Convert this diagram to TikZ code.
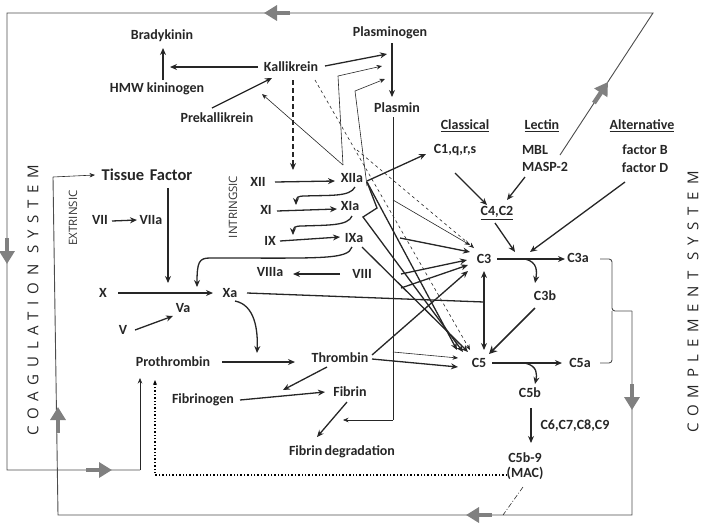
\documentclass[tikz,border=0pt]{standalone}
\usepackage{fontspec}
\setmainfont{Carlito}
\newfontfamily\sysfont[LetterSpace=45]{Open Sans}
\newfontfamily\smallsans{Open Sans}
\usetikzlibrary{arrows.meta}
\begin{document}
\begin{tikzpicture}[x=1pt,y=-1pt,
  lbl/.style={font=\bfseries\fontsize{14}{15}\selectfont, inner sep=1pt, text=black!85},
  big/.style={font=\bfseries\fontsize{16.5}{18}\selectfont, inner sep=1pt, text=black!85},
  vert/.style={font=\smallsans\fontsize{11.5}{12}\selectfont, rotate=90, inner sep=0pt, text=black!80},
  sys/.style={font=\sysfont\fontsize{15}{16}\selectfont, rotate=90, inner sep=0pt, text=black!85},
  ar/.style={draw=black!85, line width=1.3pt, -{Stealth[length=7pt,width=6pt]}},
  tar/.style={draw=black!85, line width=0.6pt, -{Stealth[length=5.5pt,width=4.5pt]}},
  ln/.style={draw=black!85, line width=1.3pt},
  tln/.style={draw=black!85, line width=0.6pt},
  gl/.style={draw=black!70, line width=0.9pt},
  gtip/.style={draw=black!50, fill=black!50, line width=4.5pt, -{Triangle[length=13pt,width=15pt]}},
]
\useasboundingbox (0,0) rectangle (707,523);
% ---------- nodes ----------
\node[lbl] (brady) at (162,36) {Bradykinin};
\node[lbl] (kall) at (291,67) {Kallikrein};
\node[lbl] (hmw) at (157,89) {HMW kininogen};
\node[lbl] (prek) at (217,118) {Prekallikrein};
\node[lbl] (plg) at (390,33) {Plasminogen};
\node[lbl] (plm) at (397,108) {Plasmin};
\node[lbl] (classical) at (465,126) {\underline{Classical}};
\node[lbl] (lectin) at (542,126) {\underline{Lectin}};
\node[lbl] (alt) at (642,126) {\underline{Alternative}};
\node[lbl] (c1) at (455,150) {C1,q,r,s};
\node[lbl] (mbl) at (535,150) {MBL};
\node[lbl] (masp) at (545,167) {MASP-2};
\node[lbl] (fb) at (645,150) {factor B};
\node[lbl] (fd) at (645,168) {factor D};
\node[big] (tf) at (147,175) {Tissue\,\,Factor};
\node[lbl] (vii) at (100,220) {VII};
\node[lbl] (viia) at (151,220) {VIIa};
\node[lbl] (xii) at (258,182) {XII};
\node[lbl] (xiia) at (352,178) {XIIa};
\node[lbl] (xi) at (266,210) {XI};
\node[lbl] (xia) at (350,206) {XIa};
\node[lbl] (ix) at (270,241) {IX};
\node[lbl] (ixa) at (354,238) {IXa};
\node[lbl] (viiia) at (270,272) {VIIIa};
\node[lbl] (viii) at (362,274) {VIII};
\node[lbl] (x) at (103,293) {X};
\node[lbl] (xa) at (230,293) {Xa};
\node[lbl] (v) at (123,330) {V};
\node[lbl] (va) at (183,308) {Va};
\node[lbl] (c42) at (497,213) {\underline{C4,C2}};
\node[lbl] (c3) at (484,259) {C3};
\node[lbl] (c3a) at (578,258) {C3a};
\node[lbl] (c3b) at (545,296) {C3b};
\node[lbl] (c5) at (479,363) {C5};
\node[lbl] (c5a) at (580,363) {C5a};
\node[lbl] (c5b) at (530,393) {C5b};
\node[lbl] (c6) at (575,426) {C6,C7,C8,C9};
\node[lbl, align=center] (mac) at (525,466) {C5b-9\\(MAC)};
\node[lbl] (prot) at (173,362) {Prothrombin};
\node[lbl] (thr) at (340,358) {Thrombin};
\node[lbl] (fbg) at (203,400) {Fibrinogen};
\node[lbl] (fbn) at (350,392) {Fibrin};
\node[lbl] (fdeg) at (342,452) {Fibrin\,degradation};
\node[vert] (extr) at (73,218) {EXTRINSIC};
\node[vert] (intr) at (233,207) {INTRINGSIC};
\node[sys] (coag) at (33,300) {COAGULATION SYSTEM};
\node[sys] (comp) at (693,302) {COMPLEMENT SYSTEM};
% ---------- outer loops ----------
\draw[gl] (560,155) -- (653,13) -- (7,13) -- (7,470) -- (140,470);
\draw[tar] (140,470) -- (140,378);
\draw[gtip] (594,103) -- (608,82);
\draw[gtip] (290,13) -- (264,13);
\draw[gtip] (7,238) -- (7,264);
\draw[gtip] (86,470) -- (112,470);
\draw[gl] (600,259) [rounded corners=3pt] -- (612,259) -- (612,311) -- (632,311);
\draw[gl, rounded corners=3pt] (600,363) -- (612,363) -- (612,311);
\draw[gl] (632,311) -- (632,515) -- (58,515) -- (53,177);
\draw[tar] (53,177) -- (95,175);
\draw[gtip] (632,384) -- (632,410);
\draw[gtip] (492,515) -- (466,515);
\draw[gtip] (58,433) -- (58,407);
\draw[line width=1.4pt, dotted, -{Stealth[length=5pt,width=4pt]}] (507,475) -- (155,475) -- (155,380);
\draw[tln, dash pattern=on 5pt off 2pt on 1pt off 2pt] (523,487) -- (503,515);
% ---------- kallikrein area ----------
\draw[ar] (163,80) -- (163,48);
\draw[ar] (258,67) -- (170,67);
\draw[ar] (212,108) -- (272,78);
\draw[ar] (325,66) -- (387,54);
\draw[ar, dash pattern=on 5pt off 3pt] (293,80) -- (293,170);
\draw[tar] (343,165) -- (262,94);
\draw[tar] (343,165) -- (338,76) -- (382,66);
\draw[tar] (367,186) -- (355,91) -- (385,79);
\draw[tar, dashed] (315,80) -- (470,350);
\draw[tar, dashed] (357,150) -- (474,248);
\draw[ar] (392,43) -- (392,97);
\draw[tln] (393,117) -- (393,420);
\draw[tar] (393,420) -- (343,420);
\draw[tar] (393,200) -- (470,245);
\draw[tar] (393,352) -- (458,358);
% ---------- intrinsic ----------
\draw[ar] (275,182) -- (335,181);
\draw[ar] (277,211) -- (337,209);
\draw[ar] (280,241) -- (340,237);
\draw[ar] (340,274) -- (293,274);
\draw[ar] (355,187) .. controls (350,197) and (330,195) .. (305,196) .. controls (297,196) and (296,198) .. (296,205);
\draw[ar] (352,216) .. controls (348,226) and (328,225) .. (302,226) .. controls (294,226) and (293,228) .. (293,235);
\draw[ar] (352,247) .. controls (348,260) and (320,258) .. (210,258) .. controls (199,258) and (197,262) .. (197,287);
\draw[ar] (367,181) -- (426,154);
\draw[ar] (367,182) -- (457,350);
\draw[ar] (367,182) -- (377,208) -- (363,217) -- (463,352);
\draw[ar] (362,247) -- (468,352);
\draw[ar] (400,238) -- (470,252);
\draw[ar] (401,274) -- (467,260);
\draw[ar] (401,288) -- (468,265);
% ---------- extrinsic / common ----------
\draw[ar] (168,188) -- (168,283);
\draw[ar] (112,221) -- (137,220);
\draw[ar] (118,293) -- (213,293);
\draw[ar] (135,330) -- (173,316);
\draw[ln] (247,293) -- (484,302);
\draw[ar] (235,301) .. controls (255,305) and (258,330) .. (257,353);
\draw[ar] (222,362) -- (295,362);
\draw[ar] (372,355) -- (468,271);
\draw[ar] (372,359) -- (458,367);
\draw[ar] (327,367) -- (283,390);
\draw[ar] (240,400) -- (325,392);
\draw[ar] (347,402) -- (317,437);
% ---------- complement ----------
\draw[ar] (455,173) -- (487,205);
\draw[ar] (525,177) -- (507,200);
\draw[ar] (625,182) -- (530,252);
\draw[ar] (495,223) -- (515,252);
\draw[ar] (497,259) -- (565,259);
\draw[ar] (525,259) .. controls (538,262) and (537,272) .. (535,283);
\draw[line width=1.3pt, draw=black!85, {Stealth[length=7pt,width=6pt]}-{Stealth[length=7pt,width=6pt]}] (484,271) -- (484,350);
\draw[line width=1.7pt, draw=black!85, -{Stealth[length=8pt,width=8pt]}] (535,308) -- (489,354);
\draw[ar] (492,363) -- (562,363);
\draw[ar] (525,363) .. controls (538,366) and (537,375) .. (535,384);
\draw[ar] (531,408) -- (531,443);
\end{tikzpicture}
\end{document}
